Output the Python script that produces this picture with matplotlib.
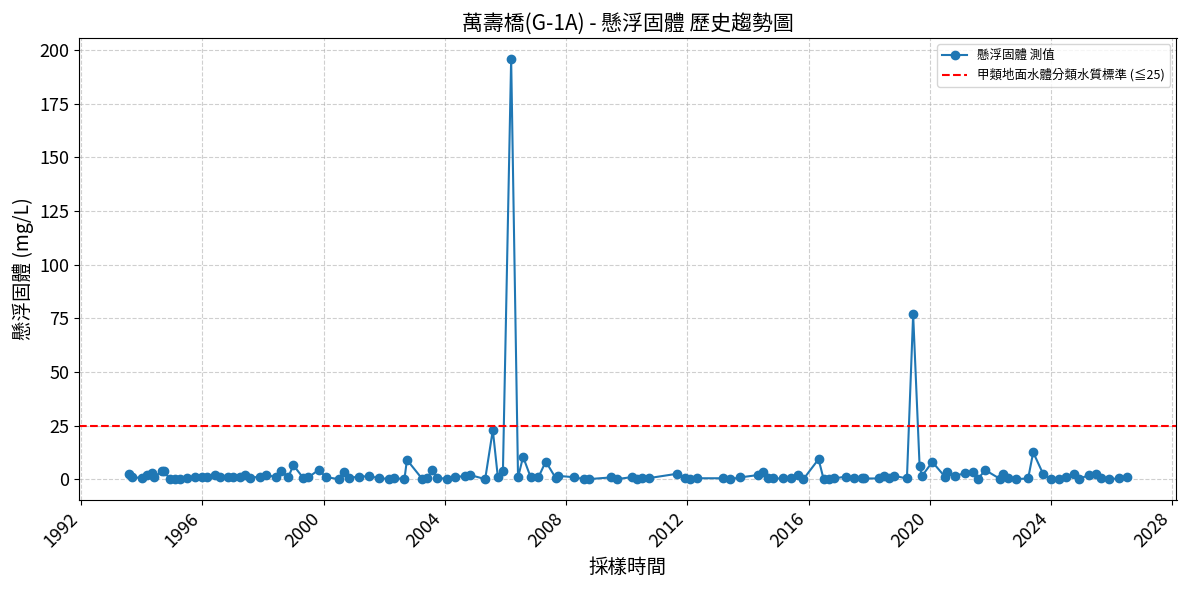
import pandas as pd
import matplotlib
matplotlib.use("Agg")
import matplotlib.pyplot as plt

plt.rcParams['font.family'] = ['Noto Sans CJK TC', 'DejaVu Sans']
plt.rcParams['axes.unicode_minus'] = False

dates = ["1993-08", "1993-09", "1994-01", "1994-03", "1994-05", "1994-06", "1994-09", "1994-10",
         "1994-12", "1995-02", "1995-04", "1995-07", "1995-10", "1996-01", "1996-03", "1996-06",
         "1996-08", "1996-11", "1997-01", "1997-04", "1997-06", "1997-08", "1997-12", "1998-02",
         "1998-06", "1998-08", "1998-11", "1999-01", "1999-05", "1999-07", "1999-11", "2000-02",
         "2000-07", "2000-09", "2000-11", "2001-03", "2001-07", "2001-11", "2002-03", "2002-05",
         "2002-09", "2002-10", "2003-04", "2003-06", "2003-08", "2003-10", "2004-02", "2004-05",
         "2004-09", "2004-11", "2005-05", "2005-08", "2005-10", "2005-12", "2006-03-10", "2006-06",
         "2006-08", "2006-11", "2007-02", "2007-05", "2007-09", "2007-10", "2008-04", "2008-08",
         "2008-10", "2009-07", "2009-09", "2010-03", "2010-05", "2010-07", "2010-10", "2011-09",
         "2011-12", "2012-02", "2012-05", "2013-03", "2013-06", "2013-10", "2014-05", "2014-07",
         "2014-09", "2014-11", "2015-03", "2015-06", "2015-09", "2015-11", "2016-05", "2016-07",
         "2016-09", "2016-11", "2017-04", "2017-07", "2017-10", "2017-11", "2018-05", "2018-07",
         "2018-09", "2018-11", "2019-04", "2019-06-15", "2019-09", "2019-10", "2020-02", "2020-07",
         "2020-08", "2020-11", "2021-03", "2021-06", "2021-08", "2021-11", "2022-05", "2022-06",
         "2022-08", "2022-11", "2023-04", "2023-06", "2023-10", "2024-01", "2024-04", "2024-07",
         "2024-10", "2024-12", "2025-04", "2025-07", "2025-09", "2025-12", "2026-04", "2026-07"]

ss = [2.3, 0.8, 0.6, 1.9, 2.8, 0.8, 4.0, 3.6,
      0.0, 0.2, 0.2, 0.5, 0.8, 0.8, 0.8, 1.9,
      0.8, 0.8, 0.8, 0.8, 1.9, 0.6, 1.2, 2.1,
      0.9, 4.0, 0.9, 6.5, 0.5, 0.8, 4.3, 0.9,
      0.0, 3.5, 0.5, 1.2, 1.3, 0.5, 0.0, 0.5,
      0.0, 9.0, 0.2, 0.5, 4.1, 0.7, 0.0, 0.9,
      1.5, 1.9, 0.0, 22.9, 0.8, 3.9, 196.0, 0.8,
      10.4, 0.8, 0.8, 8.2, 0.3, 1.5, 0.9, 0.0,
      0.0, 0.8, 0.0, 0.9, 0.2, 0.5, 0.5, 2.5,
      0.5, 0.0, 0.4, 0.4, 0.0, 0.8, 1.9, 3.1,
      0.4, 0.3, 0.3, 0.3, 2.0, 0.0, 9.3, 0.0,
      0.0, 0.3, 1.2, 0.3, 0.3, 0.3, 0.3, 1.5,
      0.6, 1.5, 0.3, 76.8, 5.9, 1.5, 8.0, 1.2,
      3.4, 1.5, 2.8, 3.1, 0.0, 4.2, 0.0, 2.5,
      0.5, 0.0, 0.3, 12.5, 2.2, 0.0, 0.0, 1.2,
      2.5, 0.0, 1.9, 2.5, 0.3, 0.0, 0.3, 1.2]

standard = 25

df = pd.DataFrame({"date": pd.to_datetime(dates, format='mixed'), "ss": ss})

fig = plt.figure(figsize=(11.89, 5.9), dpi=100)
ax = fig.add_subplot(1, 1, 1)

ax.plot(df["date"], df["ss"], color='#1f77b4', marker='o', linestyle='solid',
        markersize=6, label='懸浮固體 測值')
ax.axhline(standard, color='red', linestyle='--', linewidth=1.5,
           label='甲類地面水體分類水質標準 (≦25)')

ax.set_title("萬壽橋(G-1A) - 懸浮固體 歷史趨勢圖", fontsize=15)
ax.set_xlabel("採樣時間", fontsize=14)
ax.set_ylabel("懸浮固體 (mg/L)", fontsize=14)
ax.grid(True, linestyle='--', alpha=0.6)
ax.tick_params(labelsize=13)
plt.xticks(rotation=45, ha='right')
ax.legend(loc='upper right', fontsize=9)

plt.tight_layout(pad=0.9)
plt.savefig("out.png", dpi=100)
